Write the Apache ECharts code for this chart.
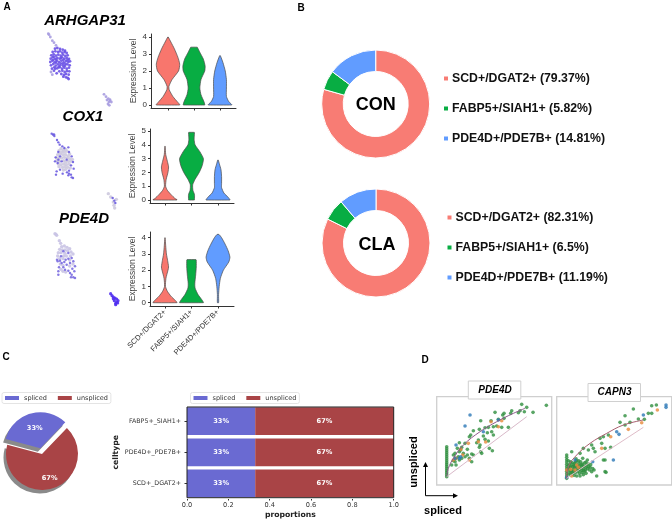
<!DOCTYPE html>
<html><head><meta charset="utf-8">
<style>html,body{margin:0;padding:0;background:#fff}#c{width:672px;height:521px}</style>
<script src="https://cdn.jsdelivr.net/npm/echarts@6/dist/echarts.min.js"></script>
</head><body><div id="c"></div>
<script>
// ---------- data ----------
const clusterLabels = ['SCD+/DGAT2+','FABP5+/SIAH1+','PDE4D+/PDE7B+'];
const conShares = [79.37,5.82,14.81];
const claShares = [82.31,6.5,11.19];
const conLegend = ['SCD+/DGAT2+ (79.37%)','FABP5+/SIAH1+ (5.82%)','PDE4D+/PDE7B+ (14.81%)'];
const claLegend = ['SCD+/DGAT2+ (82.31%)','FABP5+/SIAH1+ (6.5%)','PDE4D+/PDE7B+ (11.19%)'];
const celltypes = ['SCD+_DGAT2+','PDE4D+_PDE7B+','FABP5+_SIAH1+'];
const splicedProp = [0.33,0.33,0.33];
const unsplicedProp = [0.67,0.67,0.67];
const piePct = [33,67];
const xProportionTicks = [0,0.2,0.4,0.6,0.8,1];

// violin outlines: [expression level, relative half width]
const arhgapViolins = [
 [[0,1],[.03,1],[.15,.85],[.5,.42],[.9,.1],[1.1,.08],[1.5,.35],[2,.9],[2.4,1],[2.8,.85],[3.3,.55],[3.7,.25],[4,.02]],
 [[0,.92],[.03,.92],[.2,.85],[.6,.6],[1,.5],[1.5,.6],[2,.92],[2.3,.95],[2.7,.8],[3.1,.5],[3.38,.3],[3.4,.28]],
 [[0,1],[.03,1],[.2,.75],[.5,.55],[1,.55],[1.5,.55],[2,.45],[2.5,.25],[2.9,.03]]];
const cox1Violins = [
 [[0,1],[.03,1],[.1,.85],[.4,.5],[.7,.2],[1,.05],[1.5,.1],[2,.25],[2.4,.3],[2.8,.2],[3.3,.06],[3.9,.01]],
 [[0,.25],[.04,.25],[.4,.25],[.7,.12],[1.1,.1],[1.5,.3],[2,.65],[2.5,.9],[3,1],[3.5,.7],[4,.3],[4.4,.22],[4.86,.25],[4.9,.24]],
 [[0,1],[.03,1],[.2,.85],[.5,.5],[.9,.3],[1.2,.3],[1.7,.3],[2.2,.25],[2.6,.12],[2.9,.02]]];
const pde4dViolins = [
 [[0,1],[.03,1],[.15,.85],[.4,.5],[.7,.2],[1,.04],[1.5,.08],[2,.25],[2.2,.3],[2.6,.22],[3,.12],[3.5,.06],[4,.01]],
 [[0,1],[.03,1],[.2,.85],[.5,.55],[.9,.3],[1.2,.28],[1.7,.35],[2.2,.4],[2.62,.4],[2.65,.38]],
 [[0,.05],[.5,.05],[1,.1],[1.5,.2],[2,.45],[2.5,.9],[2.8,1],[3.2,.85],[3.6,.6],[4,.3],[4.2,.08]]];

// UMAP feature plots (cell embedding, arbitrary units)
const umap1High = [[45,62],[52,60],[60,63],[68,65],[75,68],[38,72],[46,70],[54,72],[60,70],[67,74],[74,72],[80,75],[34,82],[41,79],[48,83],[55,80],[62,83],[69,80],[76,84],[83,82],[32,92],[38,88],[45,92],[52,90],[59,92],[66,88],[73,92],[80,90],[87,93],[31,102],[37,98],[44,103],[50,99],[57,102],[64,98],[71,103],[78,99],[85,102],[90,100],[33,112],[40,108],[47,113],[54,109],[61,112],[68,108],[75,113],[82,109],[89,112],[36,122],[43,118],[52,121],[59,118],[66,122],[73,119],[80,122],[87,119],[42,128],[58,130],[67,128],[74,132],[81,129],[88,130],[50,136],[64,138],[72,141],[78,138],[86,140],[70,146],[78,148],[83,150],[86,153],[41,86],[49,95],[63,90],[70,96],[76,107],[56,116],[48,104],[62,106],[40,96],[83,96],[70,114],[46,122]];
const umap1Low = [[25,17],[27,20],[31,27],[37,38],[42,44],[48,52],[33,132],[37,140],[192,199],[198,206],[205,212],[210,215],[207,222],[214,222],[204,228],[208,232],[210,218],[201,216]];
const umap2High = [[20,17],[24,20],[28,24],[27,19],[36,36],[40,43],[44,50],[52,55],[58,60],[70,58],[72,72],[80,85],[40,72],[32,88],[45,85],[30,100],[38,105],[84,102],[78,112],[45,125],[35,130],[33,140],[53,137],[66,133],[72,137],[78,140],[70,142],[80,148],[84,150],[72,128],[86,122],[50,100],[65,95],[40,95],[203,210],[208,218],[211,225]];
const umap2Low = [[48,62],[55,66],[62,64],[42,68],[50,72],[58,72],[66,70],[74,78],[38,80],[46,78],[54,80],[62,80],[70,84],[35,90],[43,90],[50,90],[58,88],[66,90],[74,92],[82,94],[36,98],[44,100],[56,98],[62,102],[70,100],[78,100],[40,108],[48,110],[56,108],[64,110],[72,108],[42,116],[52,118],[60,116],[68,118],[76,120],[55,126],[62,124],[190,197],[197,207],[205,222],[207,232],[209,240],[214,214]];
const umap3High = [[38,100],[45,98],[50,105],[62,95],[70,92],[80,90],[85,100],[75,105],[65,110],[42,118],[40,130],[40,140],[75,135],[80,140],[85,148],[90,150],[88,130],[90,115],[82,122],[55,118],[60,125],[48,85],[70,75],[55,70],[36,95],[58,102],[70,128],[78,148]];
const umap3Low = [[30,17],[35,22],[33,19],[43,38],[47,46],[50,56],[58,54],[66,58],[74,62],[44,64],[52,66],[60,66],[68,68],[78,72],[40,74],[48,74],[60,76],[84,78],[38,84],[56,84],[64,84],[76,84],[44,92],[54,92],[74,96],[46,108],[54,112],[74,114],[48,124],[62,132],[54,130],[84,108]];
const umap3Small = [[197,197],[201,203],[205,207],[210,210],[215,213],[219,218],[215,222],[212,226],[208,218],[212,230],[218,225],[205,212]];

// velocity phase portraits: spliced, unspliced (axis runs downward as read)
const pde4dGreen = [[50,170],[50,176],[50,182],[50,188],[50,194],[50,200],[50,206],[50,212],[50,218],[50,224],[50,230],[50,236],[50,242],[50,248],[50,254],[50,260],[275,43],[290,52],[349,46],[309,67],[245,62],[195,67],[222,70],[218,75],[242,70],[270,62],[283,65],[265,68],[222,85],[205,88],[183,92],[152,92],[175,112],[165,113],[235,112],[215,112],[200,108],[190,110],[185,125],[172,128],[148,118],[130,122],[122,135],[118,140],[160,138],[190,135],[145,150],[140,158],[150,165],[175,153],[165,148],[88,158],[105,160],[82,175],[95,172],[112,178],[148,172],[152,185],[155,190],[178,175],[187,182],[70,195],[75,190],[88,185],[92,180],[100,190],[112,195],[125,192],[130,195],[85,200],[78,205],[70,212],[65,225],[78,225],[75,215],[105,200],[118,205],[125,215],[88,210],[95,205]];
const pde4dOrange = [[215,92],[205,110],[183,95],[115,160],[145,155],[167,156],[118,210],[92,178],[70,210],[78,205],[98,195]];
const pde4dBlue = [[120,75],[105,108],[205,90],[160,125],[78,165],[88,205],[92,200],[75,205]];
const pde4dFit = [[50,260],[55,235],[70,205],[100,165],[150,125],[200,95],[250,70],[285,55]];
const pde4dSteady = [[50,260],[290,80]];
const capn3Green = [[319,45],[305,47],[295,70],[305,70],[250,57],[225,77],[210,97],[225,105],[240,97],[265,87],[283,88],[175,135],[160,140],[150,145],[125,165],[130,175],[135,185],[155,160],[165,175],[182,172],[115,180],[65,185],[100,175],[90,190],[165,210],[160,210],[165,245],[168,247],[140,258],[125,245],[50,195],[50,202],[50,209],[50,216],[50,223],[50,230],[50,237],[50,244],[50,251],[50,258],[50,265],[56,225],[62,215],[68,230],[74,220],[80,212],[86,220],[92,215],[98,222],[104,218],[110,225],[116,230],[58,240],[64,246],[70,238],[76,248],[82,240],[88,250],[94,242],[100,236],[106,240],[112,236],[118,240],[56,252],[62,254],[72,256],[80,258],[90,258],[100,254],[108,250],[120,232],[132,240],[60,232],[70,224],[84,230],[96,230],[108,232],[74,232],[90,236],[78,206],[98,205],[112,210],[55,212],[60,222],[66,242],[72,228],[78,234],[84,244],[90,226],[96,248],[102,228],[108,216],[114,222],[56,234],[62,228],[68,250],[76,216],[86,212],[94,224],[104,244],[60,246],[80,226],[88,238],[100,242],[72,244],[66,218],[122,224],[128,236]];
const capn3Orange = [[322,60],[275,98],[235,118],[182,140],[155,175],[80,225],[75,240],[65,258],[50,240],[85,232],[62,238]];
const capn3Blue = [[348,45],[348,52],[280,75],[207,133],[200,125],[190,210],[128,215],[50,262],[75,210]];
const capn3Fit = [[50,265],[55,230],[80,195],[120,160],[170,130],[220,105],[280,90]];
const capn3Steady = [[50,265],[130,210],[280,112]];

// ---------- styles ----------
const RED='#F8766D', GREEN='#08ad43', BLUE='#619CFF';
const SP='#6a6ad2', UN='#a94446';
const SANS='"Liberation Sans",Arial,sans-serif', DV='"DejaVu Sans",sans-serif';
const vGrids=[
 {left:151,right:672-236,top:34,bottom:521-108,y0:105,unit:17,ticks:[0,1,2,3,4],c:[168,194,220],v:arhgapViolins},
 {left:150,right:672-234,top:129,bottom:521-203,y0:200,unit:13.8,ticks:[0,1,2,3,4,5],c:[165,192,218],v:cox1Violins},
 {left:150,right:672-234,top:232,bottom:521-306,y0:302.7,unit:16.25,ticks:[0,1,2,3,4],c:[165,191.5,218],v:pde4dViolins}];
const grid=[],xAxis=[],yAxis=[],series=[];
const vColors=[RED,GREEN,BLUE];
vGrids.forEach((g,i)=>{
  grid.push({left:g.left,right:g.right,top:g.top,bottom:g.bottom});
  const w=(521-g.bottom)-g.top, px=(g.c[2]-g.c[0])/2, wx=672-g.right-g.left;
  const xmin=-(g.c[0]-g.left)/px;
  xAxis.push({type:'value',gridIndex:i,min:xmin,max:xmin+wx/px,splitLine:{show:false},
    axisLine:{show:true,onZero:false,lineStyle:{color:'#333',width:1}},
    axisTick:{show:true,length:2.5,customValues:[0,1,2],lineStyle:{color:'#333'}},
    axisLabel:i===2?{show:true,customValues:[0,1,2],rotate:45,fontFamily:SANS,fontSize:7.5,color:'#333',margin:5,
      formatter:v=>clusterLabels[Math.round(v)]}:{show:false}});
  const ymin=-((521-g.bottom)-g.y0)/g.unit;
  yAxis.push({type:'value',gridIndex:i,min:ymin,max:ymin+w/g.unit,splitLine:{show:false},
    name:'Expression Level',nameLocation:'middle',nameGap:7,nameTextStyle:{fontFamily:SANS,fontSize:8.5,color:'#444'},
    axisLine:{show:true,onZero:false,lineStyle:{color:'#333',width:1}},
    axisTick:{show:true,length:2,customValues:g.ticks,lineStyle:{color:'#333'}},
    axisLabel:{show:true,customValues:g.ticks,fontFamily:SANS,fontSize:8,color:'#333',margin:4,formatter:v=>String(Math.round(v))}});
  series.push({type:'custom',xAxisIndex:i,yAxisIndex:i,data:[[0],[1],[2]],encode:{x:0},silent:true,clip:false,
    renderItem:(p,api)=>{
      const k=api.value(0), prof=g.v[k];
      const right=prof.map(q=>api.coord([k+q[1]*.45,q[0]]));
      const left=prof.slice().reverse().map(q=>api.coord([k-q[1]*.45,q[0]]));
      return {type:'polygon',shape:{points:right.concat(left),smooth:.2},
        style:{fill:vColors[k],stroke:'#4a4a4a',lineWidth:.7}};
    }});
});
// UMAP panels (grid 3..5)
const uG=[[40,28],[45,128],[45,228]];
uG.forEach((o,i)=>{
  const gi=3+i;
  grid.push({left:o[0],top:o[1],width:80,height:85});
  xAxis.push({type:'value',gridIndex:gi,min:0,max:240,show:false});
  yAxis.push({type:'value',gridIndex:gi,min:0,max:255,inverse:true,show:false});
});
function umap(gi,data,color,size){series.push({type:'scatter',xAxisIndex:gi,yAxisIndex:gi,data,symbolSize:size||2.4,silent:true,itemStyle:{color,opacity:.9}});}
umap(3,umap1Low,'#a79ce0',2.8);umap(3,umap1High,'#6a52e6',2.8);
umap(4,umap2Low,'#cdc9de',3.4);umap(4,umap2High,'#6b5ce0',2.4);
umap(5,umap3Low,'#c9c3e4',3.4);umap(5,umap3High,'#7a6ce0',2.5);umap(5,umap3Small,'#4f2ef0',3.2);

// stacked bar (grid 6): band pitch wider than the frame, frame drawn separately
grid.push({left:187,right:672-393.7,top:405.6,bottom:22});
xAxis.push({type:'value',gridIndex:6,min:0,max:1,name:'proportions',nameLocation:'middle',nameGap:12,
  nameTextStyle:{fontFamily:DV,fontWeight:'bold',fontSize:7.7,color:'#222'},
  splitLine:{show:false},axisLine:{show:false},
  axisTick:{show:true,length:1.5,customValues:xProportionTicks,lineStyle:{color:'#333'}},
  axisLabel:{customValues:xProportionTicks,fontFamily:DV,fontSize:6.6,color:'#333',margin:3,formatter:v=>v.toFixed(1)}});
yAxis.push({type:'category',gridIndex:6,data:celltypes,name:'celltype',nameLocation:'middle',nameGap:67,
  nameTextStyle:{fontFamily:DV,fontWeight:'bold',fontSize:7.7,color:'#222'},
  axisLine:{show:false},axisTick:{show:true,length:2.5,alignWithLabel:true,lineStyle:{color:'#333'}},
  axisLabel:{fontFamily:DV,fontSize:6.3,color:'#333',margin:6}});
const barLabel={show:true,position:'inside',color:'#fff',fontFamily:DV,fontWeight:'bold',fontSize:6.6,
  formatter:p=>Math.round(p.value*100)+'%'};
series.push({type:'bar',name:'spliced',stack:'p',xAxisIndex:6,yAxisIndex:6,data:splicedProp,barWidth:27.8,itemStyle:{color:SP},label:barLabel,silent:true});
series.push({type:'bar',name:'unspliced',stack:'p',xAxisIndex:6,yAxisIndex:6,data:unsplicedProp,barWidth:27.8,itemStyle:{color:UN},label:barLabel,silent:true});

// phase portraits (grid 7,8)
[[436.7,7],[556.7,8]].forEach(([l,gi])=>{
  grid.push({left:l,width:115,top:396.7,height:88.3,show:true,borderColor:'#cfcfcf',borderWidth:1.3,backgroundColor:'transparent'});
  xAxis.push({type:'value',gridIndex:gi,min:20,max:365,show:false});
  yAxis.push({type:'value',gridIndex:gi,min:20,max:285,inverse:true,show:false});
});
function dots(gi,data,color){series.push({type:'scatter',xAxisIndex:gi,yAxisIndex:gi,data,symbolSize:3.6,silent:true,z:3,itemStyle:{color}});}
function curve(gi,data,color,w,smooth){series.push({type:'line',xAxisIndex:gi,yAxisIndex:gi,data,smooth:smooth?.4:false,showSymbol:false,silent:true,z:4,lineStyle:{color,width:w}});}
dots(7,pde4dGreen,'#2f8f3f');dots(7,pde4dOrange,'#e98a3c');dots(7,pde4dBlue,'#2c78b6');
curve(7,pde4dFit,'#8d5a8c',1,true);curve(7,pde4dSteady,'#d9b9c9',1,false);
dots(8,capn3Green,'#2f8f3f');dots(8,capn3Orange,'#e98a3c');dots(8,capn3Blue,'#2c78b6');
curve(8,capn3Fit,'#a8606f',1,true);curve(8,capn3Steady,'#dfbcc8',1,false);

// donuts
function donut(center,vals){series.push({type:'pie',center,radius:[32.5,54],startAngle:90,clockwise:true,silent:true,
  label:{show:false},labelLine:{show:false},itemStyle:{borderColor:'#fff',borderWidth:1},
  data:vals.map((v,i)=>({name:clusterLabels[i],value:v,itemStyle:{color:vColors[i]==RED?'#f87c74':vColors[i]}}))});}
donut([375.7,104],conShares);donut([376,243],claShares);

// exploded pie
series.push({type:'pie',center:[42,454],radius:36,startAngle:165,silent:true,selectedMode:'single',selectedOffset:6,
  itemStyle:{shadowBlur:0,shadowOffsetX:-2.5,shadowOffsetY:3.5,shadowColor:'#8a8a8a'},
  labelLine:{show:false},
  label:{show:true,position:'inside',color:'#fff',fontFamily:DV,fontWeight:'bold',fontSize:6.6,formatter:'{c}%'},
  data:[{name:'spliced',value:piePct[0],selected:true,itemStyle:{color:SP},label:{offset:[0,-4]}},
        {name:'unspliced',value:piePct[1],itemStyle:{color:UN},label:{offset:[2,4]}}]});

function bLegend(left,top,labels){return {left,top,orient:'vertical',itemGap:18,icon:'rect',itemWidth:6,itemHeight:6,selectedMode:false,padding:0,
  data:clusterLabels,textStyle:{fontFamily:SANS,fontWeight:'bold',fontSize:12.3,color:'#111',padding:[0,0,0,-2]},
  formatter:n=>labels[clusterLabels.indexOf(n)]};}
function cLegend(left){return {left,top:392.5,orient:'horizontal',itemGap:11,icon:'rect',itemWidth:14,itemHeight:4,selectedMode:false,padding:[2,3],
  borderColor:'#e4e4e4',borderWidth:1,borderRadius:2,
  data:['spliced','unspliced'],textStyle:{fontFamily:DV,fontSize:6.5,color:'#333'}};}

function txt(x,y,text,font,extra){return Object.assign({type:'text',x,y,silent:true,style:{text,font,fill:'#000',align:'center',verticalAlign:'middle'}},extra||{});}
const BI='italic bold 15px '+SANS;
const graphic=[
 txt(7,7,'A','bold 10px '+SANS),txt(301,8,'B','bold 10px '+SANS),txt(6,357,'C','bold 10px '+SANS),txt(425,360,'D','bold 10px '+SANS),
 txt(85,21,'ARHGAP31',BI),txt(83,117,'COX1',BI),txt(84,219,'PDE4D',BI),
 txt(375.7,105.5,'CON','bold 18px '+SANS),txt(377,245.5,'CLA','bold 18px '+SANS),
 {type:'rect',silent:true,z:10,shape:{x:187,y:407,width:206.7,height:90.7},style:{fill:'none',stroke:'#222',lineWidth:1}},
 {type:'rect',silent:true,z:10,shape:{x:468.3,y:381,width:52.5,height:18},style:{fill:'#fff',stroke:'#d0d0d0',lineWidth:1}},
 {type:'rect',silent:true,z:10,shape:{x:588,y:383.5,width:52.5,height:18},style:{fill:'#fff',stroke:'#d0d0d0',lineWidth:1}},
 txt(495,390,'PDE4D','italic bold 10px '+SANS,{z:11}),txt(614.5,392.5,'CAPN3','italic bold 10px '+SANS,{z:11}),
 txt(414,462,'unspliced','bold 11px '+SANS,{rotation:Math.PI/2}),txt(443,511,'spliced','bold 11px '+SANS),
 {type:'line',silent:true,shape:{x1:425.5,y1:495.7,x2:425.5,y2:465},style:{stroke:'#000',lineWidth:1}},
 {type:'line',silent:true,shape:{x1:425.5,y1:495.7,x2:455,y2:495.7},style:{stroke:'#000',lineWidth:1}},
 {type:'polygon',silent:true,shape:{points:[[425.5,462],[423,467],[428,467]]},style:{fill:'#000'}},
 {type:'polygon',silent:true,shape:{points:[[458,495.7],[453,493.2],[453,498.2]]},style:{fill:'#000'}}
];
const option={animation:false,backgroundColor:'#fff',grid,xAxis,yAxis,series,graphic,
 legend:[bLegend(442,72.5,conLegend),bLegend(445.5,211.5,claLegend),cLegend(2),cLegend(190.5)]};
echarts.init(document.getElementById('c'),null,{renderer:'canvas'}).setOption(option);
</script></body></html>
